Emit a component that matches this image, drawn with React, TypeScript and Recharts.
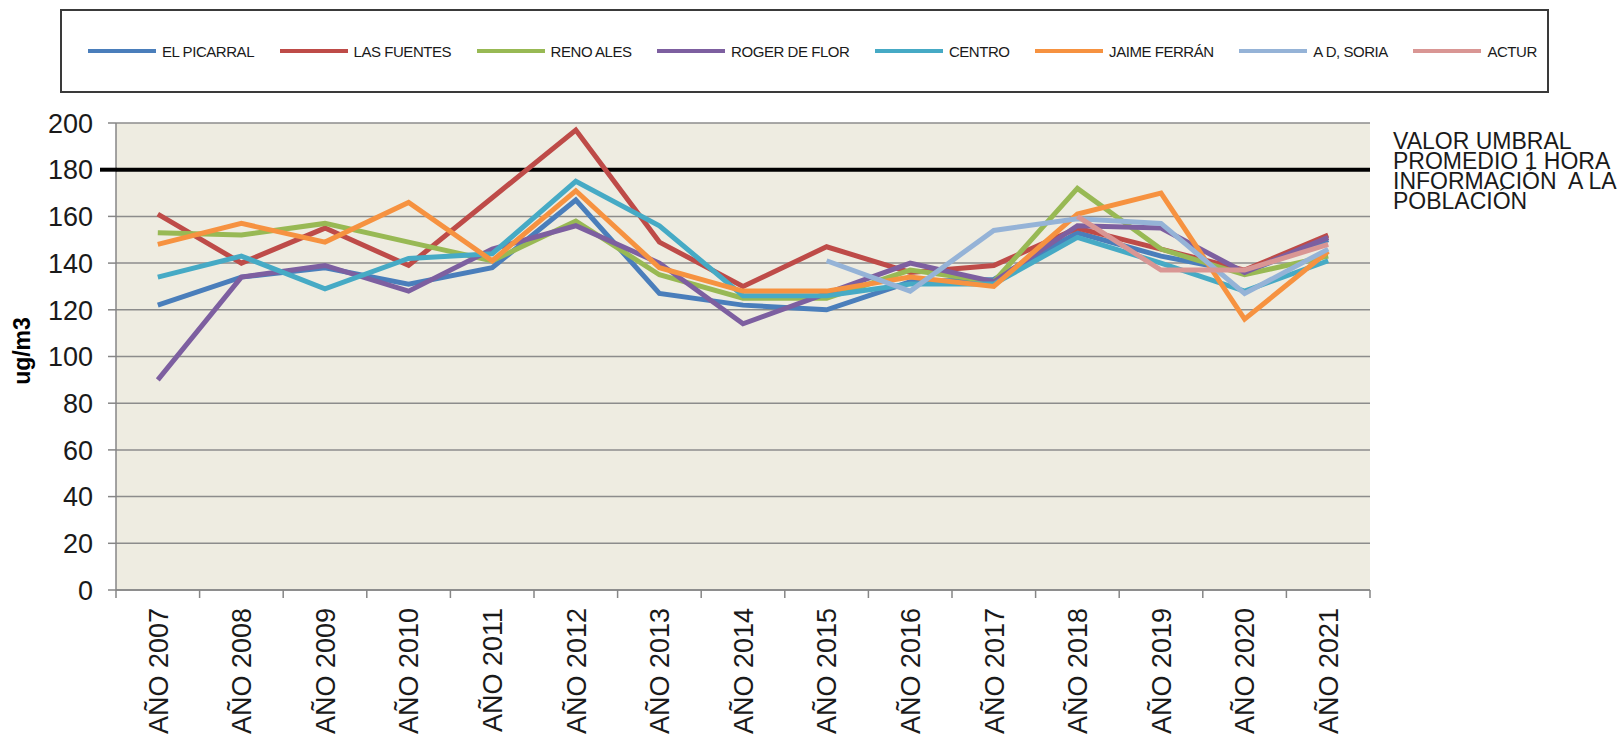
import { LineChart, Line, XAxis, YAxis, CartesianGrid, ReferenceLine } from 'recharts';

const years = [
  'AÑO 2007', 'AÑO 2008', 'AÑO 2009', 'AÑO 2010', 'AÑO 2011',
  'AÑO 2012', 'AÑO 2013', 'AÑO 2014', 'AÑO 2015', 'AÑO 2016',
  'AÑO 2017', 'AÑO 2018', 'AÑO 2019', 'AÑO 2020', 'AÑO 2021',
];

const elPicarral = [122, 134, 138, 131, 138, 167, 127, 122, 120, 132, 133, 153, 143, 136, 150];
const lasFuentes = [161, 140, 155, 139, 168, 197, 149, 130, 147, 136, 139, 155, 146, 137, 152];
const renoAles = [153, 152, 157, 149, 141, 158, 135, 125, 125, 137, 132, 172, 146, 135, 143];
const rogerDeFlor = [90, 134, 139, 128, 146, 156, 140, 114, 127, 140, 132, 156, 155, 136, 151];
const centro = [134, 143, 129, 142, 144, 175, 156, 126, 126, 131, 131, 151, 140, 128, 141];
const jaimeFerran = [148, 157, 149, 166, 141, 171, 138, 128, 128, 134, 130, 161, 170, 116, 145];
const adSoria = [null, null, null, null, null, null, null, null, 141, 128, 154, 159, 157, 127, 146];
const actur = [null, null, null, null, null, null, null, null, null, null, null, 160, 137, 137, 148];

const yTicks = [0, 20, 40, 60, 80, 100, 120, 140, 160, 180, 200];
const threshold = 180;
const thresholdText = ['VALOR UMBRAL', 'PROMEDIO 1 HORA', 'INFORMACIÓN  A LA', 'POBLACIÓN'];

const series = [
  { key: 'picarral', name: 'EL PICARRAL', color: '#4A7EBB', values: elPicarral },
  { key: 'fuentes', name: 'LAS FUENTES', color: '#BE4B48', values: lasFuentes },
  { key: 'renovales', name: 'RENO ALES', color: '#98B954', values: renoAles },
  { key: 'roger', name: 'ROGER DE FLOR', color: '#7D5FA0', values: rogerDeFlor },
  { key: 'centro', name: 'CENTRO', color: '#46AAC5', values: centro },
  { key: 'ferran', name: 'JAIME FERRÁN', color: '#F69240', values: jaimeFerran },
  { key: 'soria', name: 'A D, SORIA', color: '#95B3D7', values: adSoria },
  { key: 'actur', name: 'ACTUR', color: '#D99694', values: actur },
];

const data = years.map((label, i) => {
  const row: Record<string, any> = { idx: i, label };
  series.forEach((s) => {
    row[s.key] = s.values[i];
  });
  return row;
});

const FONT = '"Liberation Sans", Arial, sans-serif';
const PLOT_LEFT = 116;
const PLOT_RIGHT = 1370;
const PLOT_TOP = 123;
const PLOT_BOTTOM = 590;
const BAND = (PLOT_RIGHT - PLOT_LEFT) / years.length;
const AXIS_GRAY = '#868686';

function YearTick(props: any) {
  const { x, payload } = props;
  const i = payload.value;
  return (
    <g>
      <line x1={x - BAND / 2} x2={x - BAND / 2} y1={PLOT_BOTTOM} y2={PLOT_BOTTOM + 8} stroke={AXIS_GRAY} strokeWidth={1.5} />
      {i === years.length - 1 && (
        <line x1={x + BAND / 2} x2={x + BAND / 2} y1={PLOT_BOTTOM} y2={PLOT_BOTTOM + 8} stroke={AXIS_GRAY} strokeWidth={1.5} />
      )}
      <text
        transform={`translate(${x},${PLOT_BOTTOM + 18}) rotate(-90)`}
        textAnchor="end"
        dy="0.36em"
        fontSize={27}
        fontFamily={FONT}
        fill="#1a1a1a"
      >
        {years[i]}
      </text>
    </g>
  );
}

function ValueTick(props: any) {
  const { x, y, payload } = props;
  return (
    <g>
      {payload.value === threshold && (
        <line x1={100} x2={PLOT_LEFT + 1} y1={y} y2={y} stroke="#000" strokeWidth={4} />
      )}
      <text x={x} y={y} textAnchor="end" dy="0.36em" fontSize={27} fontFamily={FONT} fill="#1a1a1a">
        {payload.value}
      </text>
    </g>
  );
}

export default function App() {
  return (
    <div style={{ position: 'absolute', left: 0, top: 0, width: 1624, height: 739, background: '#fff', fontFamily: FONT, overflow: 'hidden' }}>
      <div
        style={{
          position: 'absolute',
          left: 60,
          top: 9,
          width: 1489,
          height: 84,
          boxSizing: 'border-box',
          border: '2px solid #3a3a3a',
          display: 'flex',
          alignItems: 'center',
          paddingLeft: 26,
        }}
      >
        {series.map((s) => (
          <div key={s.key} style={{ display: 'flex', alignItems: 'center', marginRight: 25.5 }}>
            <div style={{ width: 68, height: 4, background: s.color, marginRight: 6 }} />
            <span style={{ fontSize: 15, letterSpacing: -0.45, color: '#1a1a1a', whiteSpace: 'nowrap' }}>{s.name}</span>
          </div>
        ))}
      </div>

      <div
        style={{
          position: 'absolute',
          left: 22,
          top: 351,
          transform: 'translate(-50%, -50%) rotate(-90deg)',
          fontSize: 23,
          fontWeight: 'bold',
          color: '#000',
          whiteSpace: 'nowrap',
        }}
      >
        ug/m3
      </div>

      <div
        style={{
          position: 'absolute',
          left: 1393,
          top: 131,
          fontSize: 23,
          lineHeight: '20px',
          color: '#1a1a1a',
          whiteSpace: 'pre',
        }}
      >
        {thresholdText.map((t) => (
          <div key={t}>{t}</div>
        ))}
      </div>

      <div style={{ position: 'absolute', left: 0, top: 0 }}>
        <LineChart width={1624} height={739} data={data} margin={{ top: PLOT_TOP, right: 1624 - PLOT_RIGHT, bottom: 0, left: 0 }}>
          <CartesianGrid vertical={false} stroke="#8C8C8C" strokeWidth={1.5} fill="#EEECE1" fillOpacity={1} />
          <XAxis
            type="number"
            dataKey="idx"
            domain={[-0.5, years.length - 0.5]}
            ticks={years.map((_, i) => i)}
            interval={0}
            height={739 - PLOT_BOTTOM}
            tickLine={false}
            axisLine={{ stroke: AXIS_GRAY, strokeWidth: 1.5 }}
            tick={(p: any) => <YearTick {...p} />}
          />
          <YAxis
            domain={[0, 200]}
            ticks={yTicks}
            interval={0}
            width={PLOT_LEFT}
            tickSize={8}
            tickMargin={15}
            tickLine={{ stroke: AXIS_GRAY, strokeWidth: 1.5 }}
            axisLine={{ stroke: AXIS_GRAY, strokeWidth: 1.5 }}
            tick={(p: any) => <ValueTick {...p} />}
          />
          <ReferenceLine y={threshold} stroke="#000" strokeWidth={4} />
          {series.map((s) => (
            <Line
              key={s.key}
              type="linear"
              dataKey={s.key}
              name={s.name}
              stroke={s.color}
              strokeWidth={5}
              dot={false}
              activeDot={false}
              isAnimationActive={false}
            />
          ))}
        </LineChart>
      </div>
    </div>
  );
}
